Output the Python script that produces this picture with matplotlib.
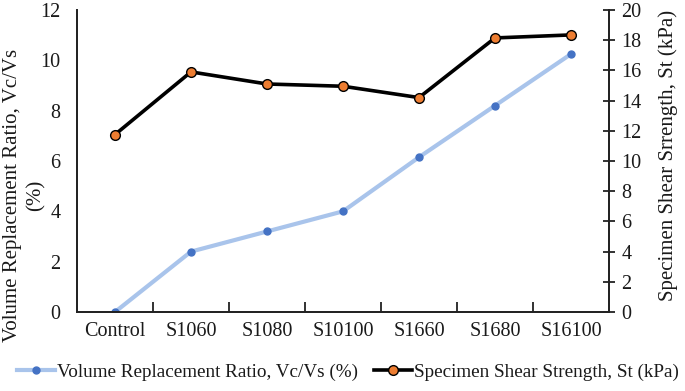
import numpy as np
import matplotlib.pyplot as plt

plt.rcParams['font.family'] = ['Liberation Serif', 'DejaVu Serif']

categories = ['Control', 'S1060', 'S1080', 'S10100', 'S1660', 'S1680', 'S16100']
vol_ratio = [0.0, 2.4, 3.2, 4.0, 6.15, 8.2, 10.25]
shear_strength = [11.75, 15.9, 15.1, 14.95, 14.2, 18.15, 18.35]

txt = '#1a1a1a'
W, H = 685, 391

fig = plt.figure(figsize=(6.85, 3.91), dpi=100)
ax = fig.add_axes([77 / W, 1 - 312 / H, (609 - 77) / W, (312 - 10) / H])
ax2 = ax.twinx()

x = np.arange(len(categories))
l1, = ax.plot(x, vol_ratio, color='#a9c4eb', lw=3, marker='o', ms=5,
              mfc='#4472c4', mec='#4472c4', label='Volume Replacement Ratio, Vc/Vs (%)')
l2, = ax2.plot(x, shear_strength, color='black', lw=2.6, marker='o', ms=7,
               mfc='#ed7d31', mec='black', mew=1, label='Specimen Shear Strength, St (kPa)')

ax.set_xlim(-0.5, len(categories) - 0.5)
ax.set_ylim(0, 12)
ax2.set_ylim(0, 20)
ax.set_yticks(np.arange(0, 13, 2))
ax2.set_yticks(np.arange(0, 21, 2))
ax.set_xticks(x)
ax.set_xticklabels(categories)
ax.set_xticks(np.arange(0.5, len(categories) - 1), minor=True)

for a in (ax, ax2):
    a.spines['top'].set_visible(False)
    for s in a.spines.values():
        s.set_color('#222222')
        s.set_linewidth(1.3)

ax.tick_params(axis='x', which='major', length=0, labelsize=14.5, colors=txt, pad=7)
ax.tick_params(axis='x', which='minor', direction='in', length=7, width=1.3, color='#222222')
ax.tick_params(axis='y', length=0, labelsize=14.5, colors=txt, pad=12)
ax2.tick_params(axis='y', direction='inout', length=8, width=1.3, color='#222222',
                labelsize=14.5, labelcolor=txt, pad=5)

# left label in two pieces (second line sits between the tick labels)
fig.text(13 / W, 1 - 195 / H, 'Volume Replacement Ratio, Vc/Vs', rotation=90,
         ha='center', va='center', fontsize=15, color=txt)
fig.text(36 / W, 1 - 195 / H, '(%)', rotation=90,
         ha='center', va='center', fontsize=15, color=txt)
fig.text(668 / W, 1 - 155 / H, 'Specimen Shear Srrength, St (kPa)', rotation=90,
         ha='center', va='center', fontsize=15, color=txt)

fig.legend(handles=[l1, l2], loc='center', bbox_to_anchor=(348 / W, 1 - 372 / H),
           ncol=2, frameon=False, fontsize=13.8, handlelength=2.0, handletextpad=0.1,
           columnspacing=0.8, labelcolor=txt, borderpad=0, borderaxespad=0)

fig.savefig('out.png', dpi=100)
